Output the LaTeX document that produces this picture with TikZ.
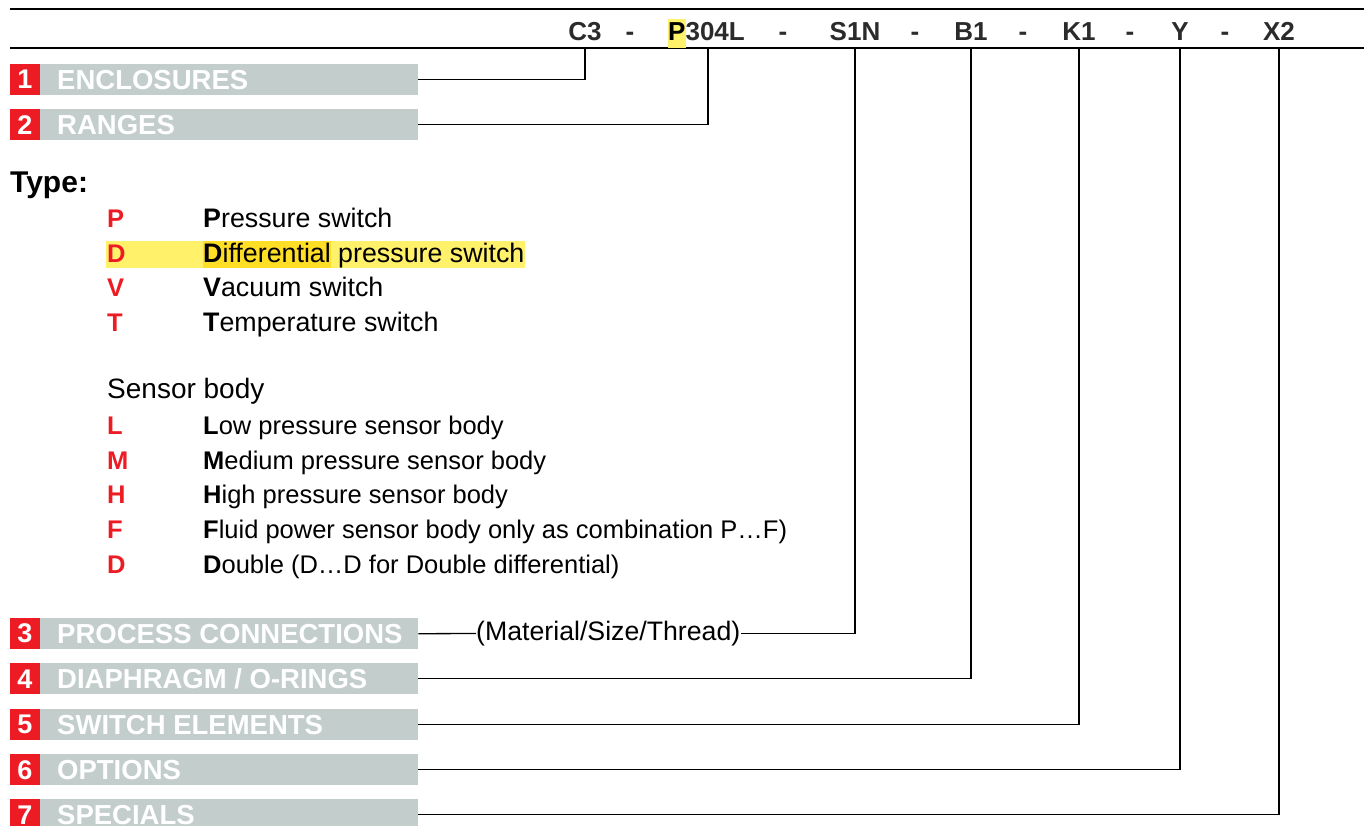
\documentclass[tikz,border=0pt]{standalone}
\usepackage{fontspec}
\setmainfont{Liberation Sans}
\definecolor{barred}{HTML}{ED1C24}
\definecolor{bargray}{HTML}{C2CDCC}
\definecolor{codegray}{HTML}{2B2B2B}
\definecolor{hlight}{HTML}{FFF16A}
\definecolor{hdark}{HTML}{FFDE26}
\tikzset{
  barbox/.style={fill=bargray, draw=none, minimum width=378pt, minimum height=31pt, inner sep=0pt, anchor=north west},
  numbox/.style={fill=barred, draw=none, minimum width=30pt, minimum height=31pt, inner sep=0pt, anchor=north east, text=white, font=\fontsize{27}{30}\selectfont\bfseries},
  bartext/.style={anchor=base west, inner sep=0pt, text=white, font=\fontsize{27.5}{30}\selectfont\bfseries},
  codetext/.style={anchor=base, inner sep=0pt, text=codegray, font=\fontsize{26}{30}\selectfont\bfseries},
  keyletter/.style={anchor=base west, inner sep=0pt, text=barred, font=\fontsize{25.5}{30}\selectfont\bfseries},
  desc/.style={anchor=base west, inner sep=0pt, font=\fontsize{25.5}{30}\selectfont},
  bigdesc/.style={desc, font=\fontsize{26.8}{30}\selectfont},
  rule/.style={line width=1.5pt, black},
  conn/.style={line width=1.3pt, black},
}
\begin{document}
\begin{tikzpicture}[x=1pt,y=-1pt]
\useasboundingbox (0,0) rectangle (1364,825);
% header rules
\coordinate (tl) at (10,9);
\coordinate (tr) at (1364,9);
\coordinate (hl) at (10,48);
\coordinate (hr) at (1364,48);
\draw[rule] (tl) -- (tr);
\draw[rule] (hl) -- (hr);
% highlight of P in code
\fill[hlight] (668,19) rectangle (686,48);
% code
\node[codetext] (c3) at (585,40) {C3};
\node[codetext] (d1) at (630,40) {-};
\node[codetext, anchor=base west] (p304) at (668,40) {\textcolor{black}{P}304L};
\node[codetext] (d2) at (783,40) {-};
\node[codetext] (s1n) at (855,40) {S1N};
\node[codetext] (d3) at (915,40) {-};
\node[codetext] (b1c) at (971,40) {B1};
\node[codetext] (d4) at (1023,40) {-};
\node[codetext] (k1) at (1079,40) {K1};
\node[codetext] (d5) at (1130,40) {-};
\node[codetext] (yc) at (1180,40) {Y};
\node[codetext] (d6) at (1225,40) {-};
\node[codetext] (x2) at (1279,40) {X2};
\coordinate (p304x) at (708,48);
% bars
\foreach \n/\y/\t in {1/64/{ENCLOSURES}, 2/109/{RANGES}, 3/618/{PROCESS CONNECTIONS}, 4/663/{DIAPHRAGM / O-RINGS}, 5/709/{SWITCH ELEMENTS}, 6/754/{OPTIONS}, 7/799/{SPECIALS}}{
  \node[barbox] (bar\n) at (40,\y) {};
  \node[numbox] (num\n) at (bar\n.north west) {\n};
  \node[bartext] (lab\n) at (57,\y+25) {\t};
}
% Type section
\node[anchor=base west, inner sep=0pt, font=\fontsize{30}{34}\selectfont\bfseries] (type) at (10,192) {Type:};
\fill[hlight] (106,241) rectangle (525,268);
\fill[hdark] (203,241) rectangle (331,268);
\node[keyletter] (kp) at (107,227) {P};
\node[bigdesc] (tp) at (203,227) {\textbf{P}ressure switch};
\node[keyletter] (kd) at (107,262) {D};
\node[bigdesc] (td) at (203,262) {\textbf{D}ifferential pressure switch};
\node[keyletter] (kv) at (107,296) {V};
\node[bigdesc] (tv) at (203,296) {\textbf{V}acuum switch};
\node[keyletter] (kt) at (107,331) {T};
\node[bigdesc] (tt) at (203,331) {\textbf{T}emperature switch};
% Sensor body
\node[anchor=base west, inner sep=0pt, font=\fontsize{28}{32}\selectfont] (sb) at (107,398) {Sensor body};
\node[keyletter] (kl) at (107,434) {L};
\node[desc] (tl2) at (203,434) {\textbf{L}ow pressure sensor body};
\node[keyletter] (km) at (107,469) {M};
\node[desc] (tm) at (203,469) {\textbf{M}edium pressure sensor body};
\node[keyletter] (kh) at (107,503) {H};
\node[desc] (th) at (203,503) {\textbf{H}igh pressure sensor body};
\node[keyletter] (kf) at (107,538) {F};
\node[desc] (tf) at (203,538) {\textbf{F}luid power sensor body only as combination P…F)};
\node[keyletter] (kd2) at (107,573) {D};
\node[desc] (tdd) at (203,573) {\textbf{D}ouble (D…D for Double differential)};
% material label
\node[anchor=west, inner sep=0pt, font=\fontsize{26.7}{30}\selectfont] (mat) at (476,633.5) {(Material/Size/Thread)};
% connectors
\draw[conn] (c3.center |- hl) |- (bar1.east);
\draw[conn] (p304x) |- (bar2.east);
\draw[conn] (s1n.center |- hl) |- (mat.east);
\draw[conn] (bar3.east) -- (mat.west);
\draw[conn] (b1c.center |- hl) |- (bar4.east);
\draw[conn] (k1.center |- hl) |- (bar5.east);
\draw[conn] (yc.center |- hl) |- (bar6.east);
\draw[conn] (x2.center |- hl) |- (bar7.east);
\end{tikzpicture}
\end{document}
